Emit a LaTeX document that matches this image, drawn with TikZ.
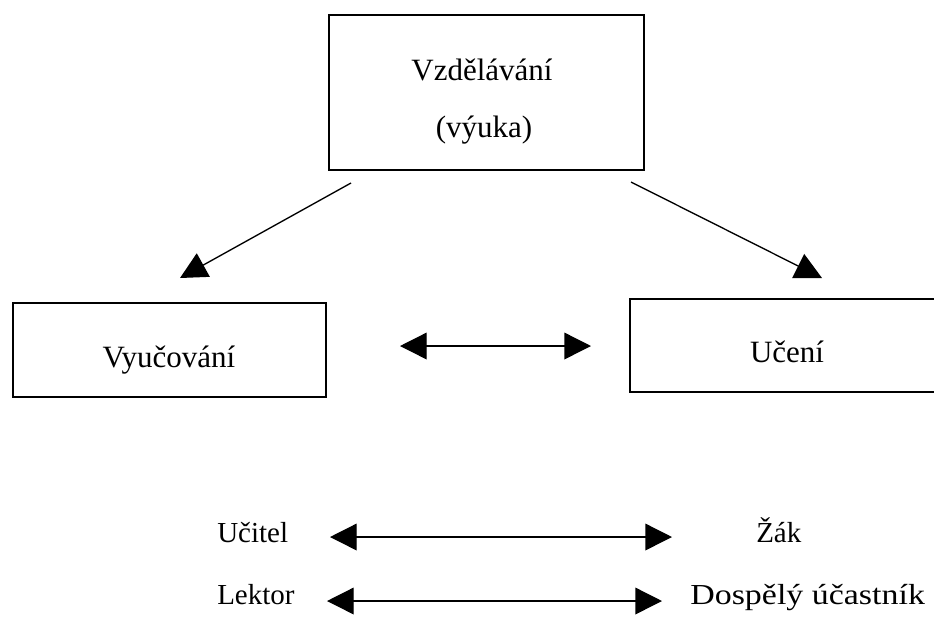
\documentclass[tikz,border=0pt]{standalone}
\usepackage{fontspec}
\setmainfont{Liberation Serif}
\usetikzlibrary{arrows.meta}

\begin{document}
\begin{tikzpicture}[x=0.75pt, y=-0.75pt,
    box/.style={draw, line width=1.5pt, inner sep=0pt},
    lbl/.style={inner sep=0pt, font=\fontsize{23.25}{28}\selectfont},
    lblsmall/.style={inner sep=0pt, font=\fontsize{21.75}{26}\selectfont},
    arr/.style={-{Triangle[length=20pt, width=20pt]}, line width=1pt},
    darr/.style={{Triangle[length=20pt, width=20pt]}-{Triangle[length=20pt, width=20pt]}, line width=1pt}]

    \useasboundingbox (0,0) rectangle (934,619);

    % boxes
    \node[box, minimum width=236.25pt, minimum height=116.25pt] (vzd) at (486.5,92.5) {};
    \node[box, minimum width=234.75pt, minimum height=70.5pt] (vyuc) at (169.5,350) {};
    \node[box, minimum width=236.25pt, minimum height=69.75pt] (uceni) at (787.5,345.5) {};

    \node[lbl, anchor=base] (vzdtext) at (482,80) {Vzdělávání};
    \node[lbl, anchor=base] (vyukatext) at (484,137) {(výuka)};
    \node[lbl, anchor=base] (vyuctext) at (169,367) {Vyučování};
    \node[lbl, anchor=base] (ucenitext) at (787,362) {Učení};

    % bottom rows
    \node[lblsmall, anchor=base west] (ucitel) at (217,542) {Učitel};
    \node[lblsmall, anchor=base west] (zak) at (756,542) {Žák};
    \node[lblsmall, anchor=base west] (lektor) at (217,604) {Lektor};
    \node[lblsmall, anchor=base west, xscale=1.17] (dospely) at (690,604) {Dospělý účastník};

    % arrow ends
    \coordinate (leftfrom) at (351,183);
    \coordinate (leftto) at (180,278);
    \coordinate (rightfrom) at (631,182);
    \coordinate (rightto) at (822,278);
    \coordinate (midl) at (400,346);
    \coordinate (midr) at (591,346);
    \coordinate (ucitelr) at (330,537);
    \coordinate (zakl) at (672,537);
    \coordinate (lektorr) at (327,601);
    \coordinate (dospelyl) at (662,601);

    \draw[arr] (leftfrom) -- (leftto);
    \draw[arr] (rightfrom) -- (rightto);
    \draw[darr] (midl) -- (midr);
    \draw[darr] (ucitelr) -- (zakl);
    \draw[darr] (lektorr) -- (dospelyl);
\end{tikzpicture}
\end{document}
